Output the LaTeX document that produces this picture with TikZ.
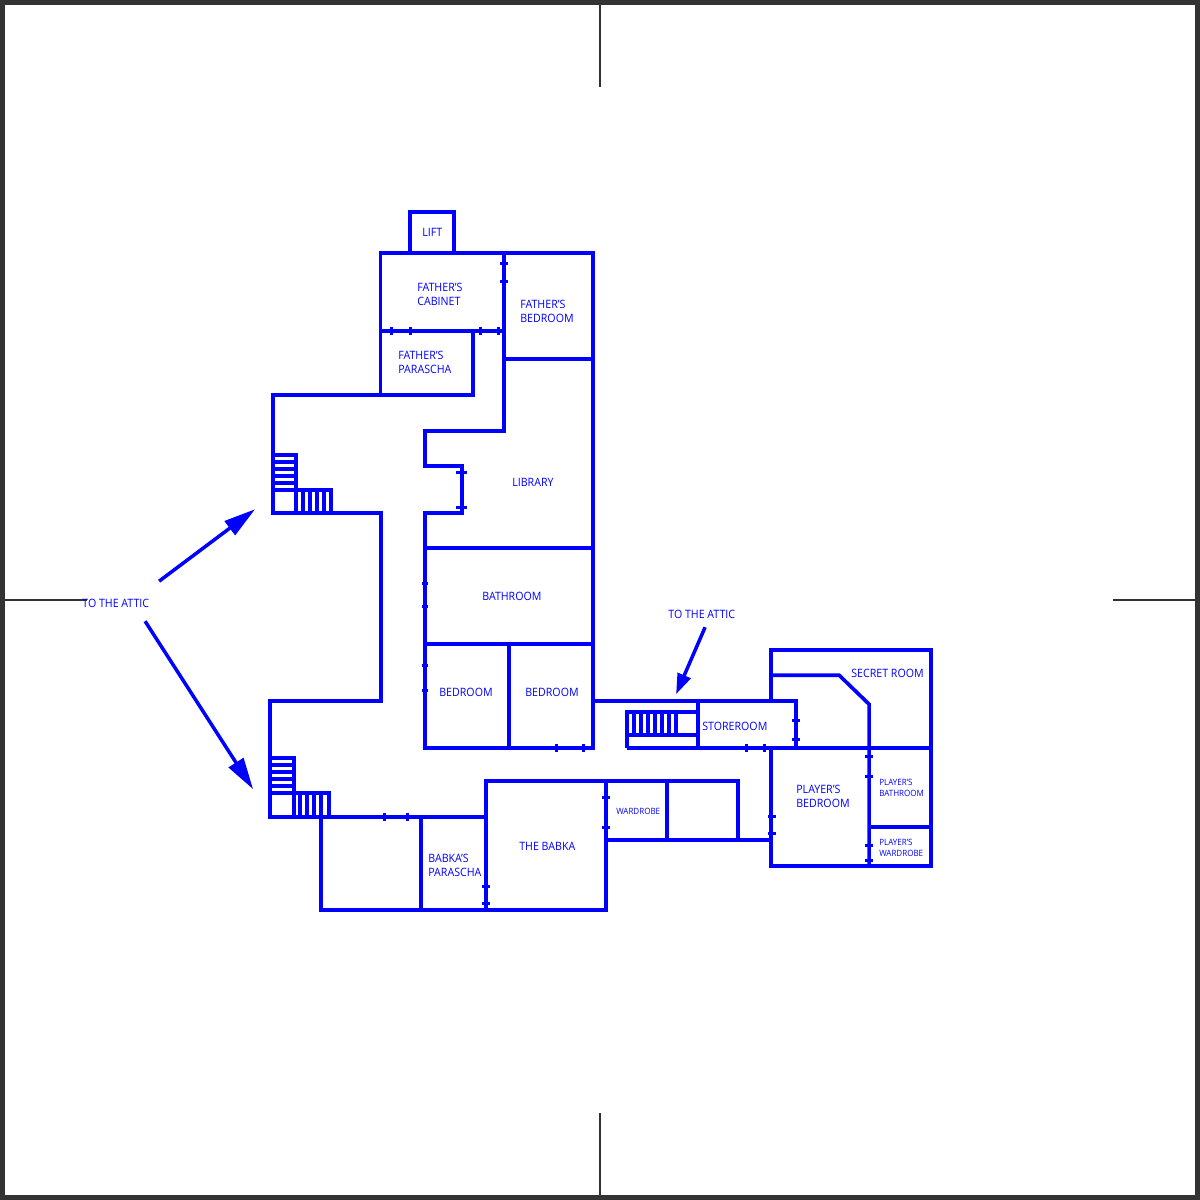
\documentclass[tikz,border=0pt]{standalone}
\usepackage{fontspec}
\setmainfont[FakeStretch=0.925]{Open Sans}
\usetikzlibrary{arrows.meta}
\definecolor{planblue}{HTML}{0000FF}
\definecolor{framegrey}{HTML}{333333}
\tikzset{
  wall/.style={draw=planblue,line width=2.2pt,line join=miter,line cap=butt},
  tick/.style={draw=planblue,line width=1.9pt},
  crossmark/.style={draw=framegrey,line width=1.2pt},
  lab/.style={text=planblue,anchor=west,inner sep=0pt,align=left,font=\fontsize{6.9}{8.5}\selectfont},
  smalllab/.style={lab,font=\fontsize{5.2}{6.6}\selectfont},
  pointer/.style={draw=planblue,line width=2.1pt,-{Triangle[length=19pt,width=10.2pt]}},
  smallpointer/.style={draw=planblue,line width=2.1pt,-{Triangle[length=12.3pt,width=8.2pt]}}
}
\newcommand{\vtick}[2]{\draw[tick] (#1,#2-4) -- (#1,#2+4);}
\newcommand{\htick}[2]{\draw[tick] (#1-4,#2) -- (#1+4,#2);}
\newcommand{\nub}[2]{\draw[tick] (#1-3,#2) -- (#1+3,#2);}
\begin{document}
\begin{tikzpicture}[x=0.6pt,y=-0.6pt]
\useasboundingbox (0,0) rectangle (1200,1200);
\fill[white] (0,0) rectangle (1200,1200);
\draw[framegrey,line width=3pt] (2.5,2.5) rectangle (1197.5,1197.5);
\draw[crossmark] (600,0) -- (600,87);
\draw[crossmark] (600,1113) -- (600,1200);
\draw[crossmark] (0,600) -- (87,600);
\draw[crossmark] (1113,600) -- (1200,600);
\begin{scope}[shift={(0.1,0.2)}]
% north wing
\draw[wall] (410,253) -- (410,212) -- (454,212) -- (454,253);
\draw[wall] (380.5,395) -- (380.5,253) -- (593,253) -- (593,748) -- (425,748) -- (425,513) -- (462,513) -- (462,466) -- (425,466) -- (425,431) -- (504,431) -- (504,253);
\draw[wall] (380.5,331) -- (504,331);
\draw[wall] (504,359) -- (593,359);
\draw[wall] (473,331) -- (473,395) -- (273,395) -- (273,513) -- (381,513) -- (381,701) -- (270,701) -- (270,817) -- (486,817);
\draw[wall] (425,548) -- (593,548);
\draw[wall] (425,644) -- (593,644);
\draw[wall] (509,644) -- (509,748);
% upper stairs
\draw[wall] (273,455) -- (296,455) -- (296,513);
\foreach \y in {462,469,476,483,490} \draw[wall] (273,\y) -- (296,\y);
\draw[wall] (296,490) -- (331,490) -- (331,513);
\foreach \x in {303,310,317,324} \draw[wall] (\x,490) -- (\x,513);
% lower stairs
\draw[wall] (270,758) -- (294,758) -- (294,817);
\foreach \y in {765,772,779,786,793} \draw[wall] (270,\y) -- (294,\y);
\draw[wall] (294,793) -- (329,793) -- (329,817);
\foreach \x in {300,307,314,321} \draw[wall] (\x,793) -- (\x,817);
% babka wing
\draw[wall] (321,817) -- (321,910) -- (606,910) -- (606,781) -- (486,781) -- (486,910);
\draw[wall] (421,817) -- (421,910);
\draw[wall] (606,781) -- (738,781) -- (738,840);
\draw[wall] (667,781) -- (667,840);
\draw[wall] (606,840) -- (771,840);
% store room and east wing
\draw[wall] (593,701) -- (796,701) -- (796,748);
\draw[wall] (627,748) -- (931,748);
\draw[wall] (698,701) -- (698,748);
\draw[wall] (698,712) -- (627,712) -- (627,748);
\draw[wall] (627,735) -- (698,735);
\foreach \x in {634,641,648,655,662,669,676} \draw[wall] (\x,712) -- (\x,735);
\draw[wall] (771,701) -- (771,650) -- (931,650) -- (931,866) -- (771,866) -- (771,748);
\draw[wall] (771,675) -- (839,675) -- (869,704) -- (869,866);
\draw[wall] (869,827) -- (931,827);
% doors
\htick{504}{263} \htick{504}{281}
\vtick{391}{331} \vtick{410}{331} \vtick{480}{331} \vtick{498}{331}
\draw[tick] (456,472) -- (467,472); \draw[tick] (456,507) -- (467,507);
\nub{425}{583} \nub{425}{606} \nub{425}{665} \nub{425}{690}
\vtick{556}{748} \vtick{583}{748}
\htick{796}{720} \htick{796}{739}
\vtick{746}{748} \vtick{764}{748}
\htick{869}{756} \htick{869}{776} \htick{869}{845} \htick{869}{860}
\htick{772}{816} \htick{772}{833}
\htick{606}{797} \htick{606}{827}
\htick{486}{886} \htick{486}{903}
\vtick{384}{817} \vtick{407}{817}
% arrows
\coordinate (a1s) at (159,581); \coordinate (a1e) at (255,509);
\coordinate (a2s) at (145,621); \coordinate (a2e) at (253,789);
\coordinate (a3s) at (705,627); \coordinate (a3e) at (676,694);
\draw[pointer] (a1s) -- (a1e);
\draw[pointer] (a2s) -- (a2e);
\draw[smallpointer] (a3s) -- (a3e);
\end{scope}
% labels
\node[lab] (lift) at (422,232) {LIFT};
\node[lab] (fcab) at (417,294.5) {FATHER’S\\CABINET};
\node[lab] (fbed) at (520,311.5) {FATHER’S\\BEDROOM};
\node[lab] (fpar) at (398,362.5) {FATHER’S\\PARASCHA};
\node[lab] (libr) at (512,482) {LIBRARY};
\node[lab] (bath) at (482,596) {BATHROOM};
\node[lab] (bed1) at (439,692) {BEDROOM};
\node[lab] (bed2) at (525,692) {BEDROOM};
\node[lab] (attl) at (82,603) {TO THE ATTIC};
\node[lab] (attr) at (668,614) {TO THE ATTIC};
\node[lab] (stor) at (702,726) {STOREROOM};
\node[lab] (secr) at (851,673) {SECRET ROOM};
\node[lab] (pbed) at (796,796.5) {PLAYER’S\\BEDROOM};
\node[smalllab] (pbat) at (879,788) {PLAYER’S\\BATHROOM};
\node[smalllab] (pwar) at (879,848) {PLAYER’S\\WARDROBE};
\node[smalllab] (ward) at (616,811) {WARDROBE};
\node[lab] (babk) at (519,846) {THE BABKA};
\node[lab] (bpar) at (428,865.5) {BABKA’S\\PARASCHA};
\end{tikzpicture}
\end{document}
